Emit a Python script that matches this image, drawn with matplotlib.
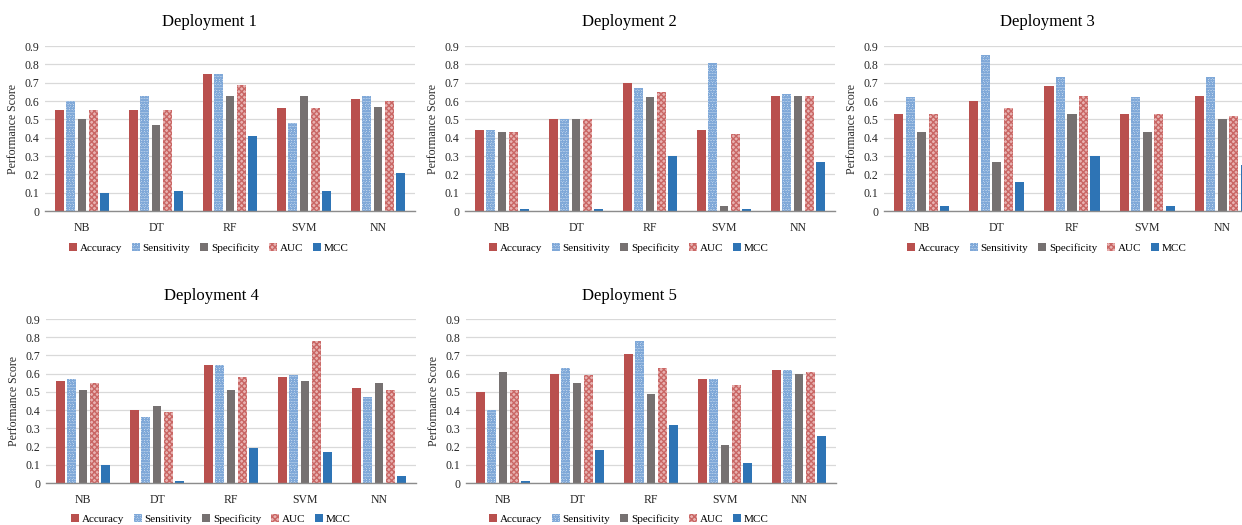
import numpy as np
import matplotlib
matplotlib.use("Agg")
import matplotlib.pyplot as plt
from matplotlib.patches import Patch

plt.rcParams['font.family'] = ['Liberation Serif', 'DejaVu Serif']
plt.rcParams['hatch.linewidth'] = 1.0

models = ['NB', 'DT', 'RF', 'SVM', 'NN']
metrics = ['Accuracy', 'Sensitivity', 'Specificity', 'AUC', 'MCC']

# rows = models, columns = metrics
dep1 = [[0.55, 0.60, 0.50, 0.55, 0.10],
        [0.55, 0.63, 0.47, 0.55, 0.11],
        [0.75, 0.75, 0.63, 0.69, 0.41],
        [0.56, 0.48, 0.63, 0.56, 0.11],
        [0.61, 0.63, 0.57, 0.60, 0.21]]
dep2 = [[0.44, 0.44, 0.43, 0.43, 0.01],
        [0.50, 0.50, 0.50, 0.50, 0.01],
        [0.70, 0.67, 0.62, 0.65, 0.30],
        [0.44, 0.81, 0.03, 0.42, 0.01],
        [0.63, 0.64, 0.63, 0.63, 0.27]]
dep3 = [[0.53, 0.62, 0.43, 0.53, 0.03],
        [0.60, 0.85, 0.27, 0.56, 0.16],
        [0.68, 0.73, 0.53, 0.63, 0.30],
        [0.53, 0.62, 0.43, 0.53, 0.03],
        [0.63, 0.73, 0.50, 0.52, 0.25]]
dep4 = [[0.56, 0.57, 0.51, 0.55, 0.10],
        [0.40, 0.36, 0.42, 0.39, 0.01],
        [0.65, 0.65, 0.51, 0.58, 0.19],
        [0.58, 0.59, 0.56, 0.78, 0.17],
        [0.52, 0.47, 0.55, 0.51, 0.04]]
dep5 = [[0.50, 0.40, 0.61, 0.51, 0.01],
        [0.60, 0.63, 0.55, 0.59, 0.18],
        [0.71, 0.78, 0.49, 0.63, 0.32],
        [0.57, 0.57, 0.21, 0.54, 0.11],
        [0.62, 0.62, 0.60, 0.61, 0.26]]
deployments = [dep1, dep2, dep3, dep4, dep5]
titles = ['Deployment 1', 'Deployment 2', 'Deployment 3', 'Deployment 4', 'Deployment 5']

# style per metric: facecolor, hatch, hatch colour
styles = [
    dict(facecolor='#B9504E', hatch=None, edgecolor='#B9504E'),
    dict(facecolor='#D3E2F2', hatch='oooooo', edgecolor='#7FA8D8'),
    dict(facecolor='#767171', hatch=None, edgecolor='#767171'),
    dict(facecolor='#E8B3B2', hatch='xxxxxx', edgecolor='#C96664'),
    dict(facecolor='#2E74B5', hatch=None, edgecolor='#2E74B5'),
]

W, H = 1242, 525
fig = plt.figure(figsize=(W / 100, H / 100), dpi=100)

# pixel layout: (left, right, top(0.9 line), bottom(0 line), title x, title y, legend y)
panels = [
    (45, 415, 46, 211, 209, 22, 248),
    (465, 835, 46, 211, 629, 22, 248),
    (884, 1260, 46, 211, 1047, 22, 248),
    (46, 416, 319, 483, 211, 296, 519),
    (466, 836, 319, 483, 629, 296, 519),
]

x = np.arange(len(models))
step = 0.153
bw = 0.12

for data, title, (l, r, t, b, tx, ty, ly) in zip(deployments, titles, panels):
    ax = fig.add_axes([l / W, 1 - b / H, (r - l) / W, (b - t) / H])
    vals = np.array(data)
    for j, m in enumerate(metrics):
        st = styles[j]
        ax.bar(x + (j - 2) * step, vals[:, j], width=bw,
               facecolor=st['facecolor'], edgecolor=st['edgecolor'],
               hatch=st['hatch'], linewidth=0, zorder=3)
    ax.set_xlim(-0.5, len(models) - 0.5)
    ax.set_ylim(0, 0.9)
    ax.set_yticks(np.arange(0, 0.91, 0.1))
    ax.set_yticklabels(['0'] + ['%.1f' % v for v in np.arange(0.1, 0.91, 0.1)])
    ax.set_xticks(x)
    ax.set_xticklabels(models)
    ax.tick_params(axis='both', length=0, labelsize=8.5, colors='#262626')
    ax.tick_params(axis='x', pad=8)
    ax.tick_params(axis='y', pad=4)
    ax.grid(axis='y', color='#D9D9D9', linewidth=0.9, zorder=0)
    for s in ['top', 'right', 'left']:
        ax.spines[s].set_visible(False)
    ax.spines['bottom'].set_color('#8C8C8C')
    ax.spines['bottom'].set_linewidth(1.0)
    ax.spines['bottom'].set_zorder(4)
    ax.set_ylabel('Performance Score', fontsize=8.5, color='#262626', labelpad=4)

    fig.text(tx / W, 1 - ty / H, title, ha='center', va='center', fontsize=12)

    handles = [Patch(facecolor=st['facecolor'], edgecolor=st['edgecolor'],
                     hatch=st['hatch'], linewidth=0) for st in styles]
    fig.legend(handles, metrics, loc='center', bbox_to_anchor=(tx / W, 1 - ly / H),
               ncol=5, frameon=False, fontsize=8, handlelength=0.7, handleheight=0.7,
               handletextpad=0.25, columnspacing=0.9, borderaxespad=0)

fig.savefig('out.png', dpi=100)
